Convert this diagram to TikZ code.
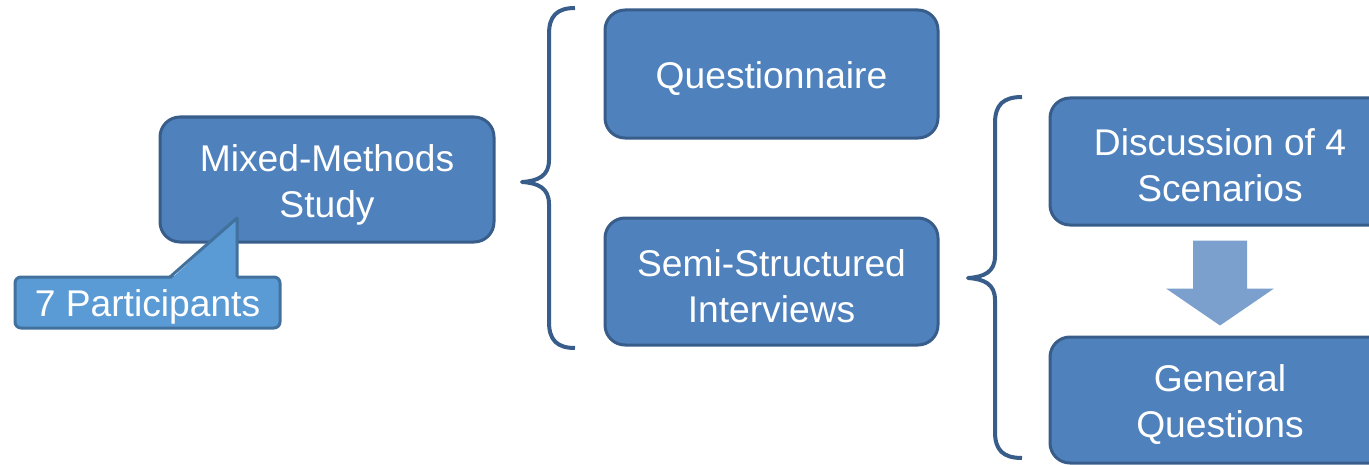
\documentclass[tikz,border=0pt]{standalone}
\usepackage{fontspec}
\setmainfont{Liberation Sans}
\usetikzlibrary{calc}
\definecolor{boxfill}{HTML}{4F81BD}
\definecolor{boxline}{HTML}{385D8A}
\definecolor{callfill}{HTML}{5B9BD5}
\definecolor{callline}{HTML}{41719C}
\definecolor{arrowfill}{HTML}{7BA0CD}
\tikzset{
  stepbox/.style={draw=boxline, fill=boxfill, line width=1.5pt, rounded corners=10pt,
    inner sep=0pt},
  callbox/.style={draw=callline, fill=callfill, line width=1.5pt, rounded corners=3pt,
    inner sep=0pt},
  lbl/.style={text=white, align=center, inner sep=0pt,
    font=\fontsize{18.6}{23}\selectfont},
  bracepath/.style={draw=boxline, line width=2pt, line join=round},
}
\begin{document}
\begin{tikzpicture}[x=0.5pt, y=-0.5pt]
\useasboundingbox (0,0) rectangle (1369,465);
\clip (0,0) rectangle (1369,465);

% main study box
\node[stepbox, minimum width=167pt, minimum height=62.5pt] (study) at (327,179.5) {};
\node[lbl] (studytxt) at ($(study.center)+(0,5)$) {Mixed-Methods\\Study};

% participants callout
\node[callbox, minimum width=132.5pt, minimum height=25.5pt] (part) at (147.5,302.5) {};
\coordinate (ptip) at (237,218);
\fill[callfill] (170,280) -- (ptip) -- (237,280) -- cycle;
\draw[callline, line width=1.5pt, line join=round] (170,277) -- (ptip) -- (237,277);
\node[lbl] (parttxt) at ($(part.center)+(0,4)$) {7 Participants};

% first brace
\draw[bracepath] (575,8) .. controls (557,8) and (549,16) .. (549,34)
  -- (549,160) .. controls (549,176) and (538,181) .. (522,182)
  .. controls (538,183) and (549,188) .. (549,204)
  -- (549,322) .. controls (549,340) and (557,348) .. (575,348);

% methods
\node[stepbox, minimum width=166.5pt, minimum height=64pt] (quest) at (771.5,74) {};
\node[lbl] (questtxt) at ($(quest.center)+(0,5)$) {Questionnaire};
\node[stepbox, minimum width=166.5pt, minimum height=63.5pt] (semi) at (771.5,281.5) {};
\node[lbl] (semitxt) at ($(semi.center)+(0,5)$) {Semi-Structured\\Interviews};

% second brace
\draw[bracepath] (1022,97) .. controls (1003,97) and (995,105) .. (995,123)
  -- (995,256) .. controls (995,272) and (984,277) .. (968,278)
  .. controls (984,279) and (995,284) .. (995,300)
  -- (995,432) .. controls (995,450) and (1003,458) .. (1022,458);

% interview parts
\node[stepbox, minimum width=170pt, minimum height=63.5pt] (disc) at (1220,161.5) {};
\node[lbl] (disctxt) at ($(disc.center)+(0,4)$) {Discussion of 4\\Scenarios};
\node[stepbox, minimum width=170pt, minimum height=63pt] (gen) at (1220,400) {};
\node[lbl] (gentxt) at ($(gen.center)+(0,5)$) {General\\Questions};

% block arrow between the two interview parts
\fill[arrowfill] ($(disc.south)+(-27,14)$) -- ($(disc.south)+(27,14)$)
  -- ($(disc.south)+(27,62)$) -- ($(disc.south)+(54,62)$)
  -- ($(gen.north)+(0,-10)$) -- ($(disc.south)+(-54,62)$)
  -- ($(disc.south)+(-27,62)$) -- cycle;
\end{tikzpicture}
\end{document}
